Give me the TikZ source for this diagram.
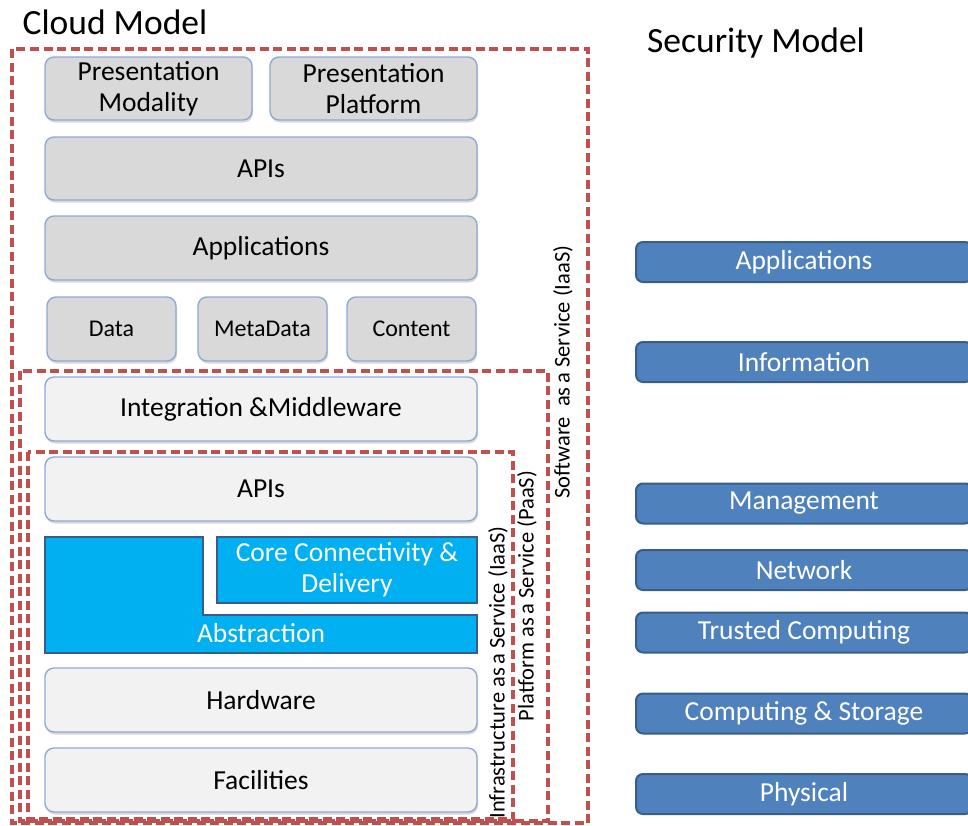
\documentclass[tikz,border=0pt]{standalone}
\usepackage{fontspec}
\setmainfont{Carlito}
\usepackage{tikz}
\usetikzlibrary{shadows}

\definecolor{layergrey}{HTML}{D9D9D9}
\definecolor{layerlight}{HTML}{F2F2F2}
\definecolor{layeredge}{HTML}{8EA9D8}
\definecolor{corecyan}{HTML}{00B0F0}
\definecolor{secblue}{HTML}{4F81BD}
\definecolor{secedge}{HTML}{385D8A}
\definecolor{zonered}{HTML}{C0504D}

\begin{document}
\begin{tikzpicture}[x=1pt, y=-1pt,
    layer/.style={draw=layeredge, line width=1.4pt, rounded corners=9pt,
                  align=center, inner sep=0pt, minimum width=432pt, minimum height=64pt,
                  font=\fontsize{27.5}{31}\selectfont,
                  drop shadow={opacity=0.3, shadow xshift=1pt, shadow yshift=-2.5pt}},
    corebox/.style={draw=secedge, line width=2.5pt, fill=corecyan, text=white},
    secbox/.style={draw=secedge, line width=2pt, fill=secblue, text=white, rounded corners=7pt,
                   inner sep=0pt, minimum width=336pt, minimum height=40pt,
                   font=\fontsize{27.5}{31}\selectfont},
    zone/.style={draw=zonered, line width=3.2pt, dash pattern=on 9pt off 4.5pt},
    zonelabel/.style={rotate=90, inner sep=0pt, font=\fontsize{22.5}{26}\selectfont},
    title/.style={inner sep=0pt, font=\fontsize{35.5}{42}\selectfont}]
    \useasboundingbox (0,0) rectangle (968,825);

    % titles
    \node[title] (cloudtitle) at (115,22) {Cloud Model};
    \node[title] (sectitle) at (756,43) {Security Model};

    % cloud model layers
    \begin{scope}[every node/.style={layer, fill=layergrey}]
        \node[minimum width=207pt, minimum height=63pt] (pmod) at (148.5,88.5) {Presentation\\Modality};
        \node[minimum width=207pt, minimum height=63pt] (pplat) at (373.5,88.5) {Presentation\\Platform};
        \node[minimum height=63pt] (apitop) at (261,168.5) {APIs};
        \node (apps) at (261,248) {Applications};
        \node[minimum width=129pt, font=\fontsize{24}{28}\selectfont] (data) at (111.5,329) {Data};
        \node[minimum width=129pt, font=\fontsize{24}{28}\selectfont] (meta) at (262.5,329) {MetaData};
        \node[minimum width=129pt, font=\fontsize{24}{28}\selectfont] (content) at (411.5,329) {Content};
    \end{scope}
    \begin{scope}[every node/.style={layer, fill=layerlight}]
        \node (integ) at (261,409) {Integration \&Middleware};
        \node (apilow) at (261,489) {APIs};
        \node (hw) at (261,700) {Hardware};
        \node (fac) at (261,780) {Facilities};
    \end{scope}

    % abstraction and core
    \draw[corebox] (45,537) -- (203,537) -- (203,615) -- (477,615) -- (477,653) -- (45,653) -- cycle;
    \node[text=white, font=\fontsize{27.5}{31}\selectfont] (abstr) at (261,633) {Abstraction};
    \node[corebox, minimum width=260pt, minimum height=66pt, inner sep=0pt, align=center,
          font=\fontsize{27.5}{31}\selectfont] (core) at (347,570) {Core Connectivity \&\\Delivery};

    % service zones
    \draw[zone] (12,49) rectangle (588,823);
    \draw[zone] (20,371) rectangle (548,821);
    \draw[zone] (28,452) rectangle (513,819);
    \node[zonelabel] (saas) at (563,372) {Software\ \ as\,a Service (IaaS)};
    \node[zonelabel] (paas) at (527,596) {Platform as\,a Service (PaaS)};
    \node[zonelabel] (iaas) at (498,672.5) {Infrastructure as\,a Service (IaaS)};

    % security model
    \begin{scope}
        \clip (0,0) rectangle (968,825);
        \begin{scope}[every node/.style={secbox}]
            \node (secapps) at (804,262) {Applications};
            \node (secinfo) at (804,362) {Information};
            \node (secmgmt) at (804,503.5) {Management};
            \node (secnet) at (804,570) {Network};
            \node (sectrust) at (804,632.5) {Trusted Computing};
            \node (seccomp) at (804,713.5) {Computing \& Storage};
            \node (secphys) at (804,794) {Physical};
        \end{scope}
    \end{scope}
\end{tikzpicture}
\end{document}
